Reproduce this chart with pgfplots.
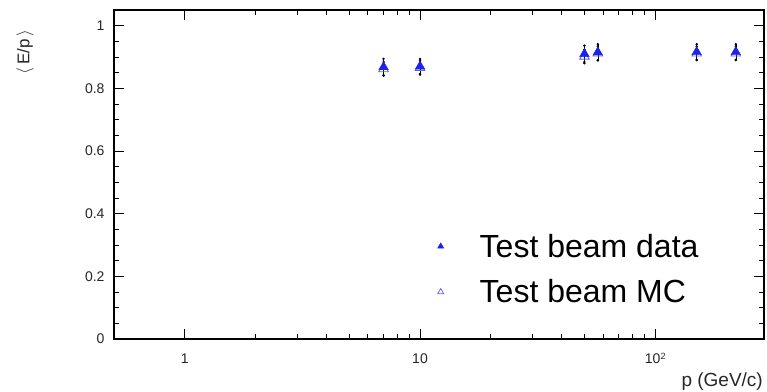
\documentclass[border=0pt]{standalone}
\usepackage{pgfplots}
\pgfplotsset{compat=1.18}
\usepackage{pgfplotstable}
\usepackage{fontspec}
\setmainfont{Liberation Sans}

\definecolor{databl}{RGB}{25,35,235}
\definecolor{mcbl}{RGB}{95,95,225}

% test beam: momentum (GeV/c), <E/p>, error
\pgfplotstableread{
p    ep     err
7    0.868  0.026
10   0.870  0.024
50   0.910  0.026
57   0.915  0.026
150  0.916  0.025
220  0.916  0.025
}\tbdata
\pgfplotstableread{
p    ep     err
7    0.862  0.022
10   0.866  0.022
50   0.902  0.022
57   0.912  0.022
150  0.912  0.022
220  0.912  0.022
}\tbmc

\begin{document}
\begin{tikzpicture}[x=1pt,y=1pt]
\useasboundingbox (-114,-52) rectangle (653,339);
\begin{axis}[
  at={(0,0)}, anchor=south west,
  scale only axis, width=650pt, height=329pt,
  xmode=log, xmin=0.5, xmax=290,
  ymin=0, ymax=1.05,
  xtick={1,10,100}, xticklabels={1,10,10\raisebox{0.55ex}{\fontsize{9}{9}\selectfont 2}},
  ytick={0,0.2,0.4,0.6,0.8,1}, yticklabels={0,0.2,0.4,0.6,0.8,1},
  minor y tick num=3,
  tick align=inside, ticks=both,
  major tick length=10pt, minor tick length=5pt,
  tick style={black, line width=0.8pt},
  axis line style={line width=1.6pt},
  /pgf/number format/assume math mode=true,
  tick label style={font=\fontsize{14}{14}\selectfont, text=black!85},
  yticklabel style={xshift=-6pt},
  xticklabel style={yshift=-11pt},
  legend style={draw=none, fill=none, at={(0.493,0.332)}, anchor=north west,
    font=\fontsize{32}{32}\selectfont, row sep=17pt, column sep=34pt},
  legend cell align=left,
]
\addplot[forget plot, only marks, mark=triangle, mcbl, mark size=5.5pt, line width=0.8pt,
  error bars/.cd, y dir=both, y explicit,
  error bar style={black, line width=0.5pt},
  error mark=*, error mark options={black, mark size=1pt}]
  table[x=p, y=ep, y error=err] {\tbmc};
\addplot[forget plot, only marks, mark=triangle*, databl, mark size=5.5pt,
  error bars/.cd, y dir=both, y explicit,
  error bar style={black, line width=0.5pt},
  error mark=*, error mark options={black, mark size=1pt}]
  table[x=p, y=ep, y error=err] {\tbdata};
\addlegendimage{only marks, mark=triangle*, databl, mark size=3.5pt}
\addlegendentry{Test beam data}
\addlegendimage{only marks, mark=triangle, mcbl, mark size=3.5pt, line width=0.7pt}
\addlegendentry{Test beam MC}
\end{axis}
\node[rotate=90, anchor=center, font=\fontsize{17}{17}\selectfont, text=black!85] at (-89,287) {$\langle$\,E/p\,$\rangle$};
\node[anchor=base east, font=\fontsize{19}{19}\selectfont, text=black!85, inner sep=0pt] at (649,-47) {p (GeV/c)};
\end{tikzpicture}
\end{document}
